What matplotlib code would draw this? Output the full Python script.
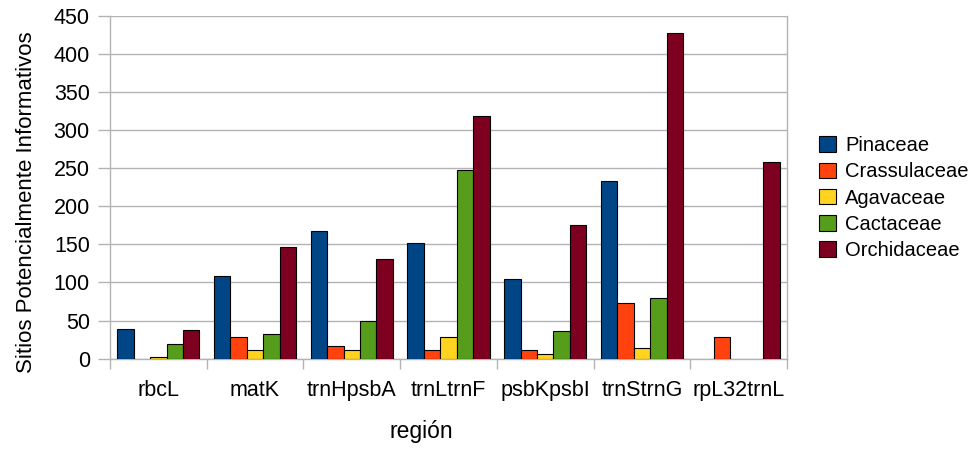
import matplotlib
matplotlib.use("Agg")
import matplotlib.pyplot as plt
import numpy as np

plt.rcParams["font.family"] = ["Liberation Sans", "DejaVu Sans"]

regions = ["rbcL", "matK", "trnHpsbA", "trnLtrnF", "psbKpsbI", "trnStrnG", "rpL32trnL"]
families = ["Pinaceae", "Crassulaceae", "Agavaceae", "Cactaceae", "Orchidaceae"]
colors = ["#004586", "#ff420e", "#ffd320", "#579d1c", "#7e0021"]

pinaceae = [39, 109, 167, 152, 104, 233, 0]
crassulaceae = [0, 28, 17, 11, 12, 73, 28]
agavaceae = [2, 11, 12, 28, 6, 14, 0]
cactaceae = [19, 33, 50, 248, 37, 79, 0]
orchidaceae = [38, 146, 131, 318, 176, 427, 258]
series = [pinaceae, crassulaceae, agavaceae, cactaceae, orchidaceae]

fig = plt.figure(figsize=(9.75, 4.49), dpi=100)
ax = fig.add_axes([0.1128, 0.2011, 0.6944, 0.7639])

x = np.arange(len(regions))
width = 0.17
for i, (vals, name, col) in enumerate(zip(series, families, colors)):
    vals = np.array(vals, dtype=float)
    offs = (i - 2) * width
    mask = vals > 0
    ax.bar(x[mask] + offs, vals[mask], width, color=col, edgecolor="black",
           linewidth=0.8, label=name, zorder=3)

ax.set_xlim(-0.5, len(regions) - 0.5)
ax.set_ylim(0, 450)
ax.set_yticks(np.arange(0, 451, 50))
ax.yaxis.grid(True, color="#b3b3b3", linewidth=1.0, zorder=0)
ax.set_axisbelow(True)

ax.set_xticks(x)
ax.set_xticklabels(regions)
ax.set_xticks(np.arange(-0.5, len(regions), 1), minor=True)
ax.tick_params(axis="x", which="major", length=0, pad=15, labelsize=15.5)
ax.tick_params(axis="x", which="minor", length=7.5, color="#b3b3b3", width=1)
ax.tick_params(axis="y", length=8.5, color="#b3b3b3", width=1, pad=6, labelsize=15.5)

for side in ["left", "right", "bottom"]:
    ax.spines[side].set_color("#b3b3b3")
    ax.spines[side].set_linewidth(1.0)
ax.spines["top"].set_visible(False)

ax.set_xlabel("región", fontsize=16.5)
ax.xaxis.set_label_coords(0.46, -0.18)
ax.set_ylabel("Sitios Potencialmente Informativos", fontsize=16, labelpad=12)
ax.yaxis.label.set_y(0.457)

ax.legend(loc="center left", bbox_to_anchor=(0.84, 0.559), bbox_transform=fig.transFigure,
          frameon=False, fontsize=14.5, handlelength=0.84, handleheight=0.84,
          labelspacing=0.35, borderaxespad=0, borderpad=0, handletextpad=0.45)

fig.savefig("out.png", dpi=100)
